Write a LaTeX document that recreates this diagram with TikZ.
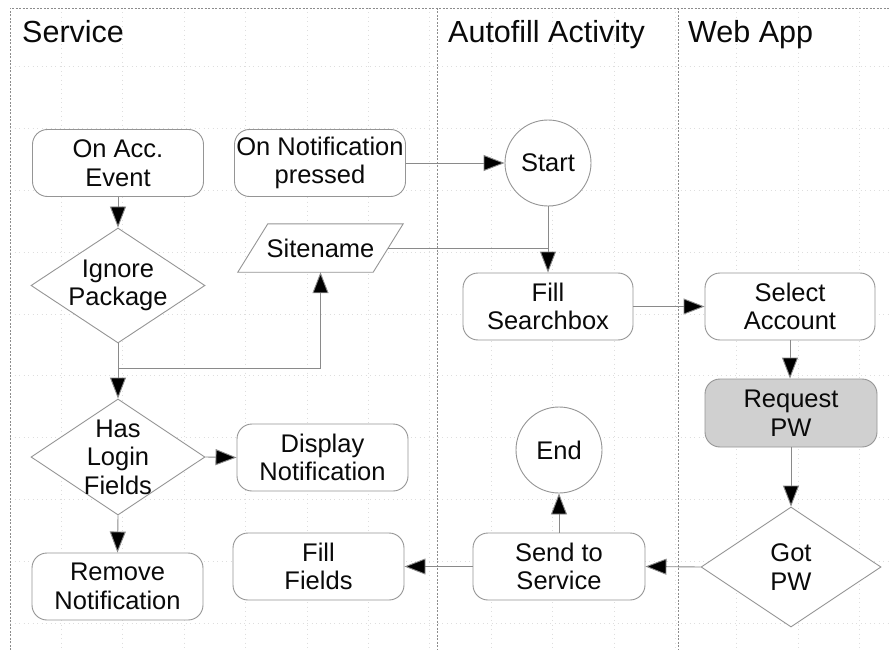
\documentclass[tikz,border=0pt]{standalone}
\usepackage{fontspec}
\setmainfont{Liberation Sans}
\usetikzlibrary{arrows.meta,shapes.geometric,calc}

\definecolor{boxline}{HTML}{959595}
\definecolor{connline}{HTML}{8A8A8A}
\definecolor{gridcol}{HTML}{DEDEDE}
\definecolor{lanecol}{HTML}{8C8C8C}
\definecolor{shade}{HTML}{D0D0D0}
\definecolor{ink}{HTML}{0A0A0A}

\newcommand\lblfont{\fontsize{25.5}{28.5}\selectfont}
\newcommand\ttlfont{\fontsize{30.5}{34}\selectfont}

\begin{document}
\begin{tikzpicture}[x=1pt,y=-1pt,
  every node/.style={text=ink},
  box/.style={draw=boxline, fill=white, rounded corners=15pt, line width=0.9pt,
    minimum width=171pt, minimum height=67pt, inner sep=0pt, align=center, font=\lblfont},
  dia/.style={draw=boxline, fill=white, diamond, line width=0.9pt, inner sep=0pt},
  term/.style={draw=boxline, fill=white, circle, line width=0.9pt,
    minimum size=86pt, inner sep=0pt, font=\lblfont},
  lbl/.style={align=center, font=\lblfont, inner sep=0pt},
  title/.style={anchor=base west, font=\ttlfont, inner sep=0pt},
  conn/.style={draw=connline, line width=0.9pt},
  arr/.style={conn, -{Triangle[length=21pt, width=16pt, fill=black]}},
  gridline/.style={draw=gridcol, line width=0.7pt, dash pattern=on 1pt off 3.5pt},
  lane/.style={draw=lanecol, line width=0.7pt, dash pattern=on 2pt off 1.5pt}
]
\useasboundingbox (0,0) rectangle (889,650);
\fill[white] (0,0) rectangle (889,650);

% background grid
\begin{scope}
  \clip (10,8) rectangle (889,650);
  \foreach \i in {1,...,14} { \draw[gridline] ({61.4*\i},8) -- ({61.4*\i},650); }
  \foreach \i in {1,...,10} { \draw[gridline] (10,{5+61.8*\i}) -- (889,{5+61.8*\i}); }
\end{scope}

% swimlane frame and dividers
\draw[lane] (10,650) -- (10,8) -- (889,8);
\draw[lane] (437,8) -- (437,650);
\draw[lane] (678,8) -- (678,650);

% lane titles
\node[title] (tsvc) at (22,43) {Service};
\node[title] (tact) at (448,43) {Autofill Activity};
\node[title] (tweb) at (688,43) {Web App};

% Service lane
\node[box] (acc) at (118,163) {On Acc.\\Event};
\node[box] (notif) at (320,163) {On Notification\\pressed};
\node[dia, minimum width=174pt, minimum height=115pt] (ign) at (118,285.5) {};
\node[lbl] at (ign) {Ignore\\Package};
\node[minimum width=135pt, minimum height=48pt, inner sep=0pt] (site) at (320.5,248) {};
\draw[draw=boxline, fill=white, line width=0.9pt]
  ($(site.north west)+(15,0)$) -- ($(site.north east)+(15,0)$) --
  ($(site.south east)+(-15,0)$) -- ($(site.south west)+(-15,0)$) -- cycle;
\node[lbl] at (site) {Sitename};
\node[dia, minimum width=174pt, minimum height=116pt] (hlf) at (118,457) {};
\node[lbl] at (hlf) {Has\\Login\\Fields};
\node[box] (disp) at (322.5,457.5) {Display\\Notification};
\node[box] (rem) at (117.5,586.5) {Remove\\Notification};
\node[box] (ff) at (318.5,566.5) {Fill\\Fields};

% Autofill Activity lane
\node[term] (start) at (548,163) {Start};
\node[box, minimum width=170pt] (fsb) at (548,306.5) {Fill\\Searchbox};
\node[term] (end) at (559,450) {End};
\node[box, minimum width=172pt] (send) at (559,566.5) {Send to\\Service};

% Web App lane
\node[box, minimum width=170pt] (sel) at (790,306.5) {Select\\Account};
\node[box, fill=shade, minimum width=172pt, minimum height=68pt] (req) at (791,413) {Request\\PW};
\node[dia, minimum width=180pt, minimum height=120pt] (got) at (791,567) {};
\node[lbl] at (got) {Got\\PW};

% connectors
\coordinate (split) at (118,368);
\draw[arr] (acc) -- (ign);
\draw[conn] (ign.south) -- (split);
\draw[arr] (split) -| (site.south);
\draw[arr] (split) -- (hlf.north);
\draw[arr] (hlf.east) -- (disp.west);
\draw[arr] (hlf.south) -- (rem.north);
\draw[arr] (notif.east) -- (start.west);
\draw[arr] (start.south) -- (fsb.north);
\draw[conn] (site.east) -- (site.east -| start.south);
\draw[arr] (fsb.east) -- (sel.west);
\draw[arr] (sel.south) -- (sel.south |- req.north);
\draw[arr] (req.south) -- (req.south |- got.north);
\draw[arr] (got.west) -- (send.east);
\draw[arr] (send.north) -- (end.south);
\draw[arr] (send.west) -- (ff.east);
\end{tikzpicture}
\end{document}
